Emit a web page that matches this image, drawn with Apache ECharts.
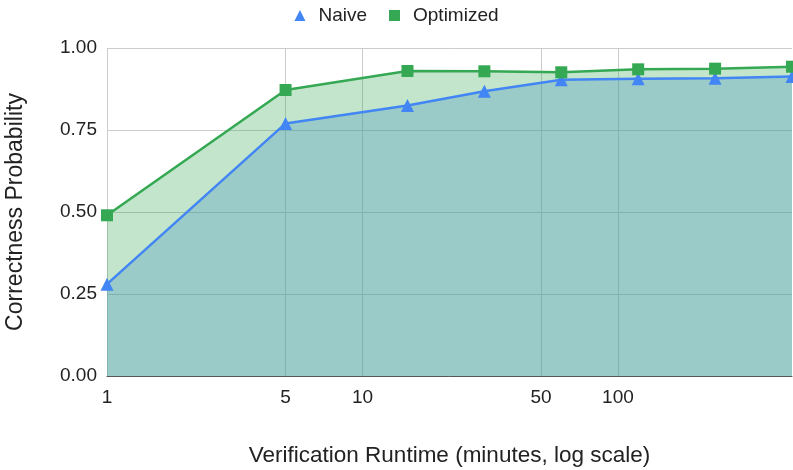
<!DOCTYPE html>
<html style="height: 100%">
<head>
    <meta charset="utf-8">
</head>
<body style="height: 100%; margin: 0">
    <div id="container" style="width: 793px; height: 470px"></div>
    <script src="https://cdn.jsdelivr.net/npm/echarts@6/dist/echarts.min.js"></script>
    <script type="text/javascript">
        // runtime in minutes (log axis)
        var runtimes = [1, 5, 15, 30, 60, 120, 240, 480];
        var naive = [0.28, 0.77, 0.825, 0.868, 0.903, 0.906, 0.908, 0.913];
        var optimized = [0.49, 0.872, 0.93, 0.929, 0.926, 0.935, 0.937, 0.943];
        var xTicks = [1, 5, 10, 50, 100];
        var yTicks = [0, 0.25, 0.5, 0.75, 1];

        var blue = '#4285f4';
        var green = '#34a853';
        var font = 'Liberation Sans, Arial, sans-serif';

        function pairs(ys) {
            return runtimes.map(function (x, i) { return [x, ys[i]]; });
        }

        var dom = document.getElementById('container');
        var myChart = echarts.init(dom);

        var option = {
            animation: false,
            textStyle: { fontFamily: font },
            legend: {
                top: 1,
                left: 'center',
                itemWidth: 11,
                itemHeight: 11,
                itemGap: 22,
                textStyle: { fontSize: 19, color: '#222', fontFamily: font, padding: [0, 0, 0, 8] },
                data: [
                    { name: 'Naive', icon: 'triangle' },
                    { name: 'Optimized', icon: 'rect' }
                ]
            },
            grid: {
                left: 107, right: 1, top: 48, bottom: 94,
                containLabel: false,
                outerBoundsMode: 'none'
            },
            xAxis: {
                type: 'log',
                logBase: 10,
                min: 1,
                max: 480,
                name: 'Verification Runtime (minutes, log scale)',
                nameLocation: 'middle',
                nameGap: 68,
                nameTextStyle: { fontSize: 22.5, color: '#222', fontFamily: font },
                axisLine: { show: true, lineStyle: { color: '#555', width: 1 } },
                axisTick: { show: false, customValues: xTicks },
                axisLabel: {
                    customValues: xTicks,
                    fontSize: 19, color: '#222', margin: 12,
                    formatter: function (v) { return String(Math.round(v)); }
                },
                splitLine: { show: true, lineStyle: { color: '#cccccc', width: 1 } }
            },
            yAxis: {
                type: 'value',
                min: 0,
                max: 1,
                interval: 0.25,
                name: 'Correctness Probability',
                nameLocation: 'middle',
                nameGap: 80,
                nameTextStyle: { fontSize: 23, color: '#222', fontFamily: font },
                axisLine: { show: false },
                axisTick: { show: false },
                axisLabel: {
                    fontSize: 19, color: '#222', margin: 10,
                    formatter: function (v) { return v.toFixed(2); }
                },
                splitLine: { lineStyle: { color: '#cccccc', width: 1 } }
            },
            series: [
                // filled areas first, lines drawn on top of both
                {
                    name: 'naive-area',
                    type: 'line',
                    data: pairs(naive),
                    symbol: 'none',
                    silent: true,
                    lineStyle: { width: 0 },
                    areaStyle: { color: blue, opacity: 0.3 },
                    z: 1
                },
                {
                    name: 'optimized-area',
                    type: 'line',
                    data: pairs(optimized),
                    symbol: 'none',
                    silent: true,
                    lineStyle: { width: 0 },
                    areaStyle: { color: green, opacity: 0.3 },
                    z: 1
                },
                {
                    name: 'Naive',
                    type: 'line',
                    data: pairs(naive),
                    symbol: 'triangle',
                    symbolSize: 13,
                    itemStyle: { color: blue },
                    lineStyle: { color: blue, width: 2.5 },
                    z: 3
                },
                {
                    name: 'Optimized',
                    type: 'line',
                    data: pairs(optimized),
                    symbol: 'rect',
                    symbolSize: 12,
                    itemStyle: { color: green },
                    lineStyle: { color: green, width: 2.5 },
                    z: 4
                }
            ]
        };
        myChart.setOption(option);
    </script>
</body>
</html>
